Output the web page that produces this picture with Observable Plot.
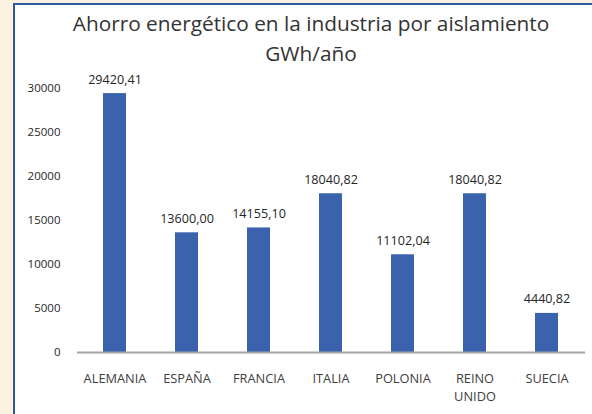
<!DOCTYPE html>
<html>
<head>
<meta charset="utf-8">
<script src="https://cdn.jsdelivr.net/npm/d3@7"></script>
<script src="https://cdn.jsdelivr.net/npm/@observablehq/plot@0.6"></script>
<style>
  html, body { margin: 0; padding: 0; }
  body { width: 592px; height: 414px; background: #fdf2e2; position: relative; overflow: hidden; font-family: "Open Sans", sans-serif; }
  #panel { position: absolute; left: 13px; top: 3px; width: 600px; height: 420px; background: #fff; border-left: 2px solid #2d5a9b; border-top: 2px solid #2d5a9b; }
  #title { position: absolute; left: 0; top: 8px; width: 622px; text-align: center; font-size: 20.8px; color: #333; line-height: 30px; }
  #chart { position: absolute; left: 0; top: 0; }
</style>
</head>
<body>
<div id="panel"></div>
<div id="title">Ahorro energético en la industria por aislamiento<br>GWh/año</div>
<div id="chart"></div>
<script>
const countries = ["ALEMANIA", "ESPAÑA", "FRANCIA", "ITALIA", "POLONIA", "REINO UNIDO", "SUECIA"];
const savings = [29420.41, 13600.00, 14155.10, 18040.82, 11102.04, 18040.82, 4440.82];
const yTicks = [0, 5000, 10000, 15000, 20000, 25000, 30000];

const data = countries.map((c, i) => ({country: c, value: savings[i]}));
const fmt = v => v.toFixed(2).replace(".", ",");

const chart = Plot.plot({
  width: 592,
  height: 414,
  marginTop: 88,
  marginBottom: 62,
  marginLeft: 77,
  marginRight: 7,
  style: {background: "transparent", fontFamily: "Open Sans, sans-serif", fontSize: "11px", color: "#404040"},
  x: {domain: countries, paddingInner: 0.68, paddingOuter: 0.34, label: null},
  y: {domain: [0, 30000], label: null},
  marks: [
    Plot.axisY({ticks: yTicks, tickSize: 0, tickPadding: 17, tickFormat: d => String(d), fill: "#262626", fontSize: 11.5, label: null}),
    Plot.axisX({tickSize: 0, tickPadding: 17, fill: "#404040", fontSize: 12.8, lineHeight: 1.45, tickFormat: d => d.replace(" ", "\n"), label: null}),
    Plot.barY(data, {x: "country", y: "value", fill: "#3a62ad"}),
    Plot.ruleY([0], {stroke: "#a6a6a6", strokeWidth: 2}),
    Plot.text(data, {x: "country", y: "value", text: d => fmt(d.value), dy: -14, fill: "#262626", fontSize: 12.6})
  ]
});
document.getElementById("chart").appendChild(chart);
</script>
</body>
</html>
